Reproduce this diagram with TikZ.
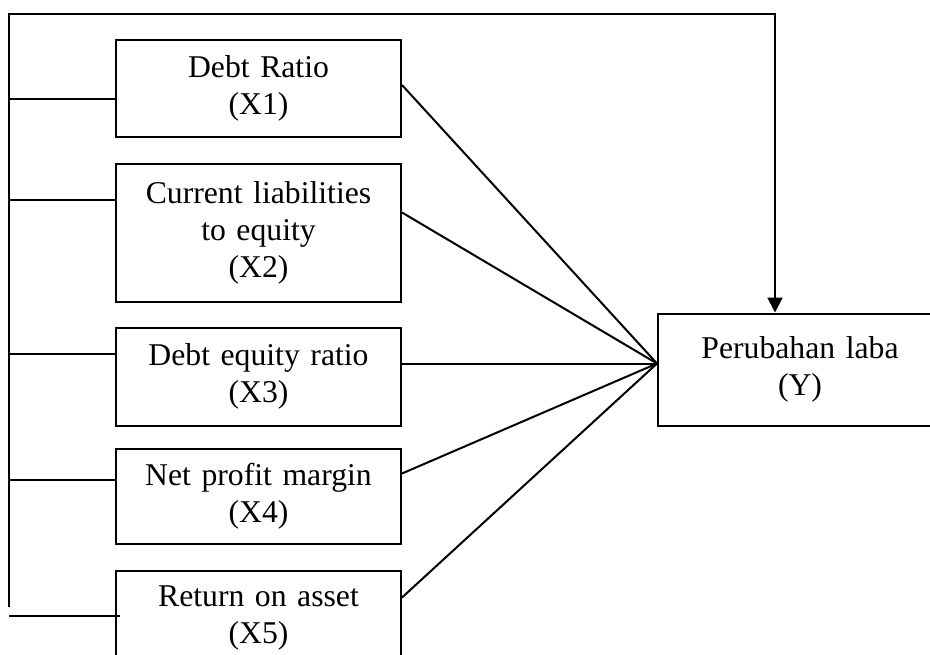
\documentclass[tikz,border=0pt]{standalone}
\usepackage{fontspec}
\setmainfont{Liberation Serif}
\usetikzlibrary{arrows.meta}
\tikzstyle{ratiobox} = [rectangle, minimum width=142.5pt, text centered, text width=130pt, draw=black, font=\fontsize{15.85}{18.5}\selectfont]
\tikzstyle{resultbox} = [rectangle, minimum width=142pt, minimum height=56pt, text centered, text width=130pt, draw=black, font=\fontsize{15.85}{18.5}\selectfont]
\tikzstyle{arrow} = [line width=1pt, -{Triangle[length=7.5pt,width=7.5pt]}]
\begin{document}
\begin{tikzpicture}[node distance=72pt, line width=1pt]
	\useasboundingbox (0,0) rectangle (465pt,-327pt);
	\node (x1) [ratiobox, minimum height=48.5pt] at (129.25pt,-44.25pt) {Debt Ratio \\ (X1)};
	\node (x2) [ratiobox, minimum height=69pt, below of=x1] {Current liabilities \\ to equity \\ (X2)};
	\node (x3) [ratiobox, minimum height=49pt, below of=x2] {Debt equity ratio \\ (X3)};
	\node (x4) [ratiobox, minimum height=47.5pt, below of=x3, yshift=12.25pt] {Net profit margin \\ (X4)};
	\node (x5) [ratiobox, minimum height=47.5pt, below of=x4, yshift=11pt] {Return on asset \\ (X5)};
	\node (per) [resultbox, right of=x3, node distance=270.75pt, yshift=3.5pt] {Perubahan laba \\ (Y)};
	% bus on the left and the line over the top
	\coordinate (bustop) at ([xshift=-53pt,yshift=12.5pt]x1.north west);
	\coordinate (busbot) at ([xshift=-53pt,yshift=5.75pt]x5.west);
	\coordinate (hub) at ([yshift=3pt]per.west);
	\draw [arrow] (busbot) -- (bustop) -| ([xshift=-12.5pt]per.north);
	\foreach \n/\dy in {x1/-5.25, x2/16.5, x3/11.5, x4/8.25}
		\draw ([yshift=\dy pt]\n.west) -- ++(-53pt,0);
	\draw ([xshift=2.5pt,yshift=1.25pt]x5.west) -- ++(-55.5pt,0);
	% lines into Y
	\foreach \n/\dy in {x1/1.75, x2/10, x3/6.5, x4/11.25, x5/10.25}
		\draw ([yshift=\dy pt]\n.east) -- (hub);
\end{tikzpicture}
\end{document}
